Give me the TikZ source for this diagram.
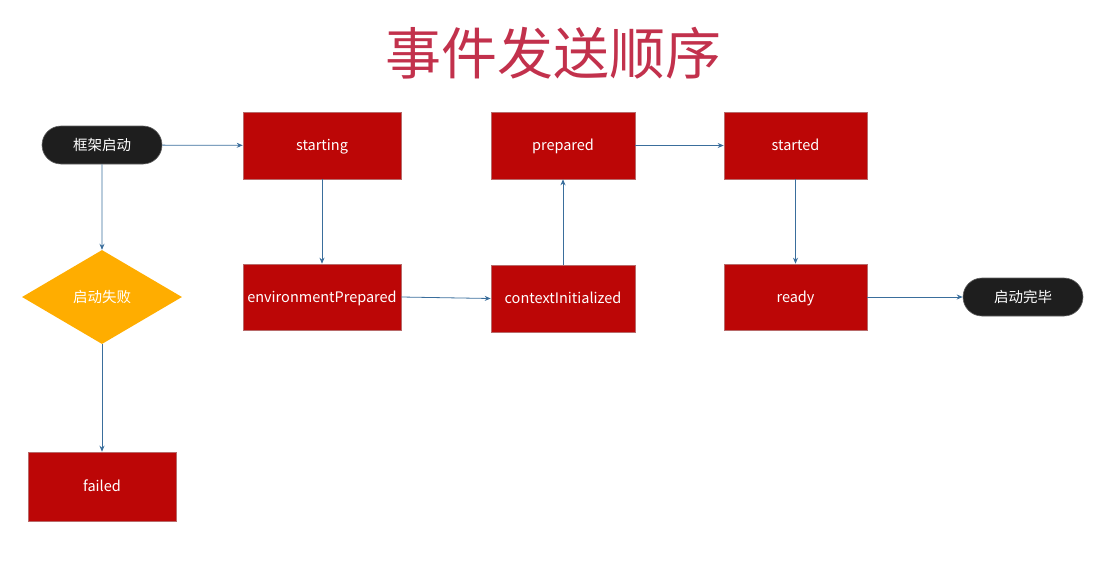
\documentclass[tikz,border=0pt]{standalone}
\usepackage{fontspec}
\setmainfont{Noto Sans CJK SC}
\usetikzlibrary{shapes.geometric,shapes.misc,arrows.meta}
\definecolor{boxred}{HTML}{BC0606}
\definecolor{boxedge}{HTML}{B86A6A}
\definecolor{pill}{HTML}{1E1E1E}
\definecolor{gold}{HTML}{FFAD00}
\definecolor{link}{HTML}{3A6E9C}
\definecolor{titlered}{HTML}{C2314C}
\tikzset{
  x=1pt,y=-1pt,
  evbox/.style={rectangle,fill=boxred,draw=boxedge,line width=0.6pt,text=white,font=\fontsize{14.5}{16}\selectfont,inner sep=0pt,text height=12pt,text depth=2pt},
  pillnode/.style={rounded rectangle,fill=pill,draw=pill!70!white,line width=0.6pt,text=white,minimum width=120pt,minimum height=38pt,font=\fontsize{14.5}{16}\selectfont,inner sep=0pt},
  decide/.style={diamond,fill=gold,text=white,minimum width=160pt,minimum height=94pt,inner sep=0pt,font=\fontsize{14.5}{16}\selectfont,aspect=1.7},
  link/.style={draw=link,line width=0.8pt,-{Stealth[length=6pt,width=5pt]}}
}
\begin{document}
\begin{tikzpicture}
\useasboundingbox (0,0) rectangle (1109,566);
\node[text=titlered,font=\fontsize{56}{60}\selectfont] (title) at (553,53) {事件发送顺序};
\node[pillnode] (boot) at (102,145) {框架启动};
\node[evbox,minimum width=158pt,minimum height=67pt] (starting) at (322,145.5) {starting};
\node[evbox,minimum width=144pt,minimum height=67pt] (prepared) at (563,145.5) {prepared};
\node[evbox,minimum width=143pt,minimum height=67pt] (started) at (795.5,145.5) {started};
\node[decide] (fail) at (102,297) {启动失败};
\node[evbox,minimum width=158pt,minimum height=66pt] (env) at (322,297) {environmentPrepared};
\node[evbox,minimum width=144pt,minimum height=67pt] (ctx) at (563,298.5) {contextInitialized};
\node[evbox,minimum width=143pt,minimum height=66pt] (ready) at (795.5,297) {ready};
\node[pillnode] (done) at (1023,297) {启动完毕};
\node[evbox,minimum width=148pt,minimum height=69pt] (failed) at (102,486.5) {failed};
\draw[link] (boot) -- (starting);
\draw[link] (boot) -- (fail);
\draw[link] (fail) -- (failed);
\draw[link] (starting) -- (env);
\draw[link] (env.east) -- (ctx.west);
\draw[link] (ctx) -- (prepared);
\draw[link] (prepared) -- (started);
\draw[link] (started) -- (ready);
\draw[link] (ready) -- (done);
\end{tikzpicture}
\end{document}
